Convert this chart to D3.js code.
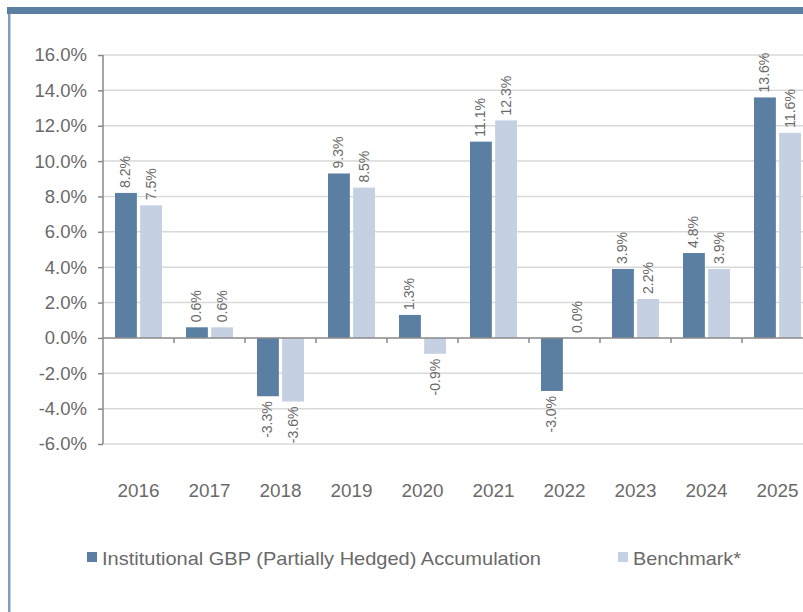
<!DOCTYPE html>
<html>
<head>
<meta charset="utf-8">
<script src="https://cdn.jsdelivr.net/npm/d3@7"></script>
<style>
  html, body { margin: 0; padding: 0; background: #fff; overflow: hidden; }
  text { font-family: "Liberation Sans", Arial, sans-serif; }
</style>
</head>
<body>
<script>
// chart data
var years = ["2016", "2017", "2018", "2019", "2020", "2021", "2022", "2023", "2024", "2025"];
var fundValues = [8.2, 0.6, -3.3, 9.3, 1.3, 11.1, -3.0, 3.9, 4.8, 13.6];
var benchValues = [7.5, 0.6, -3.6, 8.5, -0.9, 12.3, 0.0, 2.2, 3.9, 11.6];
var seriesNames = ["Institutional GBP (Partially Hedged) Accumulation", "Benchmark*"];
var seriesColors = ["#5b7fa3", "#c5d1e3"];
var yTicks = [-6, -4, -2, 0, 2, 4, 6, 8, 10, 12, 14, 16];

var width = 803, height = 612;

var svg = d3.select("body").append("svg")
    .attr("width", width)
    .attr("height", height);

// frame: thick top bar and thin left rule
svg.append("rect")
    .attr("x", 7).attr("y", 7)
    .attr("width", width - 7).attr("height", 7)
    .style("fill", "#5b7fa3");
svg.append("rect")
    .attr("x", 8).attr("y", 14)
    .attr("width", 2.5).attr("height", height - 14)
    .style("fill", "#7f9fc2");

var y = d3.scaleLinear().domain([-6, 16]).range([444, 55]);
var x = d3.scaleBand().domain(years).range([103, 813]).paddingInner(0).paddingOuter(0);
var x1 = d3.scaleBand().domain([0, 1]).range([12, 71 - 12]).paddingInner(0.13);

// gridlines
svg.append("g").selectAll("line")
    .data(yTicks.filter(function (d) { return d !== 0; }))
    .enter().append("line")
    .attr("x1", 103).attr("x2", width)
    .attr("y1", function (d) { return y(d); })
    .attr("y2", function (d) { return y(d); })
    .style("stroke", "#d9d9d9")
    .style("stroke-width", 1.5);

// y axis
var yAxis = svg.append("g")
    .attr("transform", "translate(103,0)")
    .call(d3.axisLeft(y).tickValues(yTicks).tickSize(5).tickPadding(11)
        .tickFormat(function (d) { return d.toFixed(1) + "%"; }));
yAxis.select(".domain").attr("d", "M0," + y(16) + "V" + y(-6)).style("stroke", "#888").style("stroke-width", 1.5);
yAxis.selectAll(".tick line").style("stroke", "#888").style("stroke-width", 1.5);
yAxis.selectAll(".tick text")
    .style("font-family", "'Liberation Sans', Arial, sans-serif")
    .style("font-size", "18.5px")
    .style("fill", "#6a6a6a");

// bars
var rows = years.map(function (yr, i) { return { year: yr, vals: [fundValues[i], benchValues[i]] }; });

var groups = svg.append("g").selectAll("g")
    .data(rows)
    .enter().append("g")
    .attr("transform", function (d) { return "translate(" + x(d.year) + ",0)"; });

groups.selectAll("rect")
    .data(function (d) { return d.vals.map(function (v, k) { return { v: v, k: k }; }); })
    .enter().append("rect")
    .attr("x", function (d) { return x1(d.k); })
    .attr("width", x1.bandwidth())
    .attr("y", function (d) { return y(Math.max(0, d.v)); })
    .attr("height", function (d) { return Math.abs(y(d.v) - y(0)); })
    .style("fill", function (d) { return seriesColors[d.k]; });

// value labels, rotated
groups.selectAll("text")
    .data(function (d) { return d.vals.map(function (v, k) { return { v: v, k: k }; }); })
    .enter().append("text")
    .attr("transform", function (d) {
        var cx = x1(d.k) + x1.bandwidth() / 2 + 4.5;
        var cy = d.v >= 0 ? y(d.v) - 5 : y(d.v) + 5;
        return "translate(" + cx + "," + cy + ") rotate(-90)";
    })
    .attr("text-anchor", function (d) { return d.v >= 0 ? "start" : "end"; })
    .style("font-size", "14px")
    .style("fill", "#6a6a6a")
    .text(function (d) { return d.v.toFixed(1) + "%"; });

// zero axis with category ticks
var xAxis = svg.append("g")
    .attr("transform", "translate(0," + y(0) + ")");
xAxis.append("line")
    .attr("x1", 103).attr("x2", width)
    .style("stroke", "#888").style("stroke-width", 1.5);
xAxis.selectAll("line.tk")
    .data(years.slice(1))
    .enter().append("line")
    .attr("class", "tk")
    .attr("x1", function (d) { return x(d); })
    .attr("x2", function (d) { return x(d); })
    .attr("y1", 0).attr("y2", 5)
    .style("stroke", "#888").style("stroke-width", 1.5);

// year labels
svg.append("g").selectAll("text")
    .data(years)
    .enter().append("text")
    .attr("x", function (d) { return x(d) + x.bandwidth() / 2; })
    .attr("y", 497)
    .attr("text-anchor", "middle")
    .attr("textLength", 42)
    .attr("lengthAdjust", "spacingAndGlyphs")
    .style("font-size", "18.5px")
    .style("fill", "#6a6a6a")
    .text(function (d) { return d; });

// legend
var legendX = [87, 618];
var legendLen = [439, 108];
var legend = svg.append("g").selectAll("g")
    .data(seriesNames)
    .enter().append("g")
    .attr("transform", function (d, i) { return "translate(" + legendX[i] + ",552)"; });
legend.append("rect")
    .attr("width", 10).attr("height", 10)
    .style("fill", function (d, i) { return seriesColors[i]; });
legend.append("text")
    .attr("x", 15).attr("y", 13)
    .attr("textLength", function (d, i) { return legendLen[i]; })
    .attr("lengthAdjust", "spacingAndGlyphs")
    .style("font-size", "18.5px")
    .style("fill", "#6a6a6a")
    .text(function (d) { return d; });
</script>
</body>
</html>
